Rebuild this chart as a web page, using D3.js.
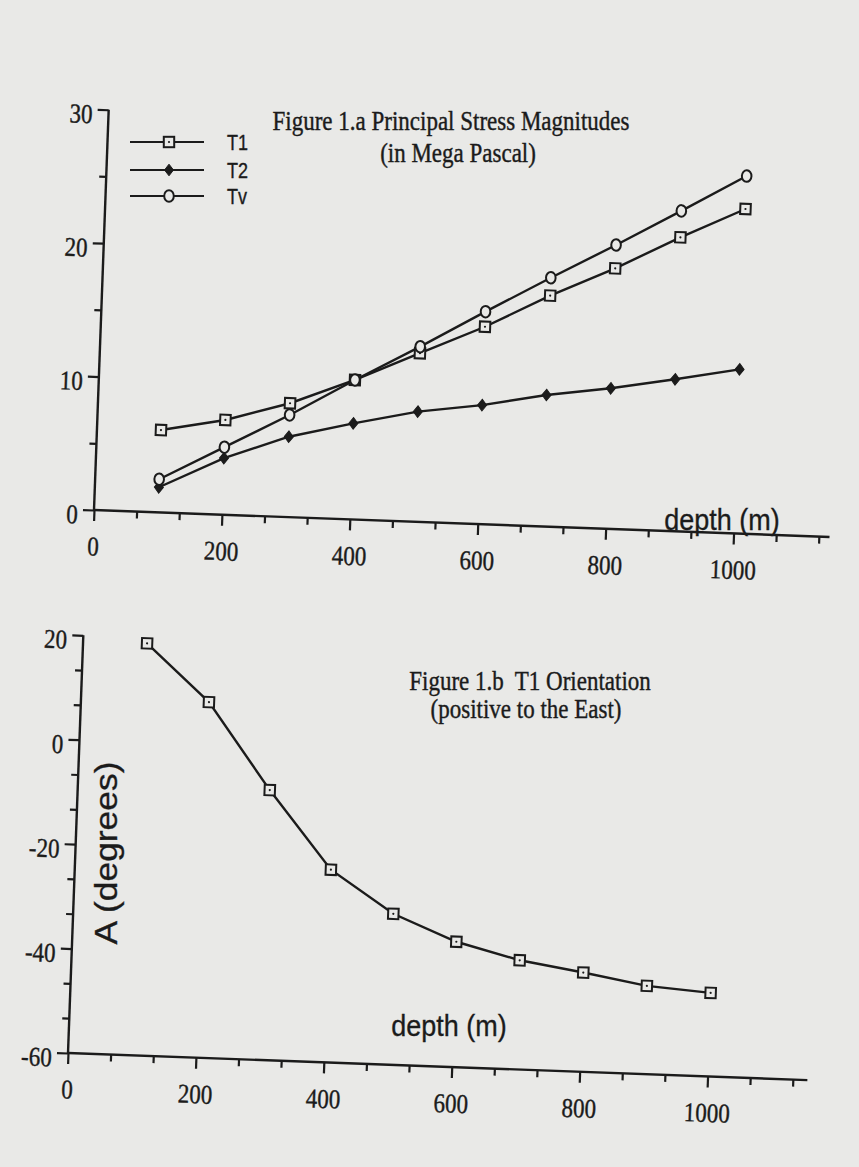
<!DOCTYPE html>
<html><head><meta charset="utf-8">
<script src="https://cdn.jsdelivr.net/npm/d3@7"></script>
<style>
html,body{margin:0;padding:0;background:#e9e9e7;}
svg{display:block;}
text{white-space:pre;}
</style></head><body>
<svg id="chart" width="859" height="1167"></svg>
<script>
// ---- data ----
const depths = [100, 200, 300, 400, 500, 600, 700, 800, 900, 1000];
const t1 = [6.17, 7.10, 8.53, 10.45, 12.63, 14.79, 17.30, 19.52, 22.02, 24.32];
const t2 = [1.88, 4.24, 6.02, 7.20, 8.25, 8.92, 9.85, 10.53, 11.38, 12.30];
const tv = [2.48, 5.06, 7.65, 10.45, 13.12, 15.92, 18.64, 21.27, 24.0, 26.79];
const orientation = [18.9, 8.1, -8.3, -23.1, -31.1, -36.0, -39.1, -41.0, -43.1, -44.0];
const seriesNames = ["T1", "T2", "Tv"];
const xTickLabels = [0, 200, 400, 600, 800, 1000];
const yTopTickLabels = [0, 10, 20, 30];
const yTopMinor = [5, 15, 25];
const yBottomTickLabels = [20, 0, -20, -40, -60];
const titleA = ["Figure 1.a Principal Stress Magnitudes", "(in Mega Pascal)"];
const titleB = ["Figure 1.b  T1 Orientation", "(positive to the East)"];
const xTitle = "depth (m)";
const yTitleB = "A (degrees)";

// ---- style ----
const INK = "#1b1b1b", PAPER = "#e9e9e7";
const TILT = 2.1, STRETCH = 1.18;
const SERIF = "'Liberation Serif','Times New Roman',serif";
const SANS = "'Liberation Sans',Arial,sans-serif";
const svg = d3.select("#chart");
svg.append("rect").attr("width", 859).attr("height", 1167).attr("fill", PAPER);

function txt(g, x, y, s, o = {}) {
  const sc = o.scale || `1,${o.stretch || STRETCH}`;
  return g.append("text")
    .attr("transform", `translate(${x},${y}) rotate(${o.rot || 0}) scale(${sc})`)
    .attr("dy", "0.35em")
    .attr("text-anchor", o.anchor || "middle")
    .attr("font-family", o.family || SERIF)
    .attr("font-size", o.size || 23)
    .attr("fill", INK)
    .attr("stroke", INK)
    .attr("stroke-width", o.sw == null ? 0.35 : o.sw)
    .text(s);
}

const xMinor = d3.range(0, 1150, 200 / 3).filter(v => Math.abs(v / 200 - Math.round(v / 200)) > 0.01);

function marker(g, type, cx, cy) {
  if (type === "T1") {
    g.append("rect").attr("x", cx - 5.2).attr("y", cy - 5.2).attr("width", 10.4).attr("height", 10.4)
      .attr("fill", PAPER).attr("stroke", INK).attr("stroke-width", 2);
    g.append("circle").attr("cx", cx).attr("cy", cy).attr("r", 1.1).attr("fill", INK);
  } else if (type === "T2") {
    g.append("path").attr("d", `M${cx},${cy - 5.8}L${cx + 4.5},${cy}L${cx},${cy + 5.8}L${cx - 4.5},${cy}Z`)
      .attr("fill", INK).attr("stroke", INK).attr("stroke-width", 1);
  } else {
    g.append("ellipse").attr("cx", cx).attr("cy", cy).attr("rx", 4.8).attr("ry", 5.8)
      .attr("fill", PAPER).attr("stroke", INK).attr("stroke-width", 2);
  }
}

function panel(o) {
  const g = svg.append("g").attr("transform", `translate(${o.ox},${o.oy}) rotate(${TILT})`);
  const x = d3.scaleLinear().domain([0, 1000]).range([0, 640]);
  const y = d3.scaleLinear().domain([o.yDomain[0], o.yDomain[1]]).range([0, -o.yLen]);

  // x axis
  const ax = g.append("g");
  ax.call(d3.axisBottom(x).tickValues(xMinor).tickSize(7).tickFormat("").tickSizeOuter(0));
  ax.select(".domain").remove();
  const axM = g.append("g");
  axM.call(d3.axisBottom(x).tickValues(xTickLabels).tickSize(11).tickFormat("").tickSizeOuter(0));
  axM.select(".domain").remove();
  axM.selectAll(".tick").each(function (d) {
    txt(d3.select(this), 0, 36, String(d));
  });
  g.append("line").attr("x1", 0).attr("x2", x(o.xMax)).attr("y1", 0).attr("y2", 0)
    .attr("stroke", INK).attr("stroke-width", 2.4);

  // y axis
  const ay = g.append("g");
  ay.call(d3.axisLeft(y).tickValues(o.yMinor).tickSize(7).tickFormat("").tickSizeOuter(0));
  ay.select(".domain").remove();
  const ayM = g.append("g");
  ayM.call(d3.axisLeft(y).tickValues(o.yMajor).tickSize(11).tickFormat("").tickSizeOuter(0));
  ayM.select(".domain").remove();
  ayM.selectAll(".tick").each(function (d) {
    txt(d3.select(this), -16, 4, String(d), { anchor: "end" });
  });
  g.selectAll(".tick line").attr("stroke", INK).attr("stroke-width", 2.2);
  g.append("line").attr("x1", 0).attr("x2", 0).attr("y1", 1).attr("y2", y(o.yDomain[1]))
    .attr("stroke", INK).attr("stroke-width", 2.4);

  // series
  const line = d3.line().x(d => x(d[0])).y(d => y(d[1]));
  o.series.forEach(s => {
    const pts = depths.map((d, i) => [d, s.values[i]]);
    g.append("path").attr("d", line(pts)).attr("fill", "none").attr("stroke", INK).attr("stroke-width", 2.4);
  });
  o.series.forEach(s => {
    depths.forEach((d, i) => marker(g, s.type, x(d), y(s.values[i])));
  });
  return g;
}

panel({
  ox: 94, oy: 510, yDomain: [0, 30], yLen: 400.5, xMax: 1150,
  yMajor: yTopTickLabels, yMinor: yTopMinor,
  series: [
    { type: "T2", values: t2 },
    { type: "T1", values: t1 },
    { type: "Tv", values: tv }
  ]
});

panel({
  ox: 68, oy: 1053, yDomain: [-60, 20], yLen: 418, xMax: 1156,
  yMajor: yBottomTickLabels, yMinor: d3.range(-60, 21, 20 / 3).filter(v => Math.abs(v / 20 - Math.round(v / 20)) > 0.01),
  series: [{ type: "T1", values: orientation }]
});

// legend (top panel)
const lg = svg.append("g");
[t1, t2, tv].forEach((vals, i) => {
  const yy = [142, 170, 196][i];
  lg.append("line").attr("x1", 130).attr("x2", 204).attr("y1", yy).attr("y2", yy)
    .attr("stroke", INK).attr("stroke-width", 2.2);
  marker(lg, seriesNames[i], 169, yy);
  txt(lg, 227, yy, seriesNames[i], { anchor: "start", family: SANS, size: 18, stretch: 1.25, sw: 0.3 });
});

// titles
const tg = svg.append("g");
txt(tg, 451, 120, titleA[0]);
txt(tg, 458, 152, titleA[1]);
txt(tg, 530, 680, titleB[0]);
txt(tg, 526, 708, titleB[1]);
txt(tg, 722, 519, xTitle, { family: SANS, size: 27, stretch: 1.12, sw: 0.3 });
txt(tg, 449, 1025, xTitle, { family: SANS, size: 27, stretch: 1.12, sw: 0.3 });
txt(tg, 106, 853, yTitleB, { family: SANS, size: 29, rot: -90, scale: "1.22,1.05", sw: 0.3 });
</script>
</body></html>
